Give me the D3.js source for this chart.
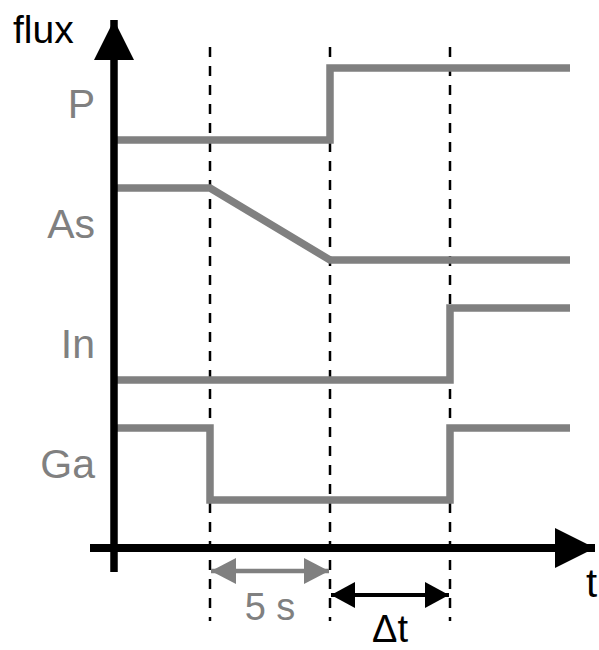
<!DOCTYPE html>
<html>
<head>
<meta charset="utf-8">
<script src="https://cdn.jsdelivr.net/npm/d3@7"></script>
<style>
  body { margin: 0; background: #fff; }
  text { font-family: "Liberation Sans", Arial, sans-serif; }
</style>
</head>
<body>
<svg width="599" height="650"></svg>
<script>
// time in seconds, flux in arbitrary units
var species = ["P", "As", "In", "Ga"];

var pFlux  = [[0, 17], [9, 17], [9, 20], [19, 20]];
var asFlux = [[0, 15], [4, 15], [9, 12], [19, 12]];
var inFlux = [[0, 7], [14, 7], [14, 10], [19, 10]];
var gaFlux = [[0, 5], [4, 5], [4, 2], [14, 2], [14, 5], [19, 5]];

var markerTimes = [4, 9, 14];
var spans = [
  {from: 4, to: 9, label: "5 s", color: "#808080"},
  {from: 9, to: 14, label: "\u0394t", color: "#000"}
];

var svg = d3.select("svg");
var grey = "#808080";

var x = d3.scaleLinear().domain([0, 19]).range([114, 570]),
    y = d3.scaleLinear().domain([0, 22]).range([548, 20]);

var series = [pFlux, asFlux, inFlux, gaFlux];

var defs = svg.append("defs");
function head(id, color, len, half) {
  defs.append("marker")
      .attr("id", id)
      .attr("viewBox", "0 " + (-half) + " " + len + " " + (2 * half))
      .attr("refX", len).attr("refY", 0)
      .attr("markerUnits", "userSpaceOnUse")
      .attr("markerWidth", len).attr("markerHeight", 2 * half)
      .attr("orient", "auto-start-reverse")
    .append("path")
      .attr("d", "M0," + (-half) + "L" + len + ",0L0," + half + "Z")
      .attr("fill", color);
}
head("axhead", "#000", 40, 20);
head("greyhead", grey, 25, 13);
head("blackhead", "#000", 24, 13);

// dashed time markers
svg.selectAll(".marker")
  .data(markerTimes)
  .enter().append("line")
    .attr("class", "marker")
    .attr("x1", function(d) { return x(d); })
    .attr("x2", function(d) { return x(d); })
    .attr("y1", 47)
    .attr("y2", 621)
    .attr("stroke", "#000")
    .attr("stroke-width", 2.5)
    .attr("stroke-dasharray", "10,9");

// flux traces
var line = d3.line()
    .x(function(d) { return x(d[0]); })
    .y(function(d) { return y(d[1]); });

svg.selectAll(".trace")
  .data(series)
  .enter().append("path")
    .attr("class", "trace")
    .attr("d", line)
    .attr("fill", "none")
    .attr("stroke", grey)
    .attr("stroke-width", 7.5)
    .attr("stroke-linejoin", "miter");

// axes
svg.append("line")
    .attr("x1", x(0)).attr("x2", x(0))
    .attr("y1", 572).attr("y2", y(22))
    .attr("stroke", "#000").attr("stroke-width", 7.5)
    .attr("marker-end", "url(#axhead)");

svg.append("line")
    .attr("x1", 90).attr("x2", 595)
    .attr("y1", y(0)).attr("y2", y(0))
    .attr("stroke", "#000").attr("stroke-width", 8)
    .attr("marker-end", "url(#axhead)");

// species labels, centred on each trace's two levels
svg.selectAll(".lab")
  .data(series)
  .enter().append("text")
    .attr("class", "lab")
    .attr("x", 95)
    .attr("y", function(d) {
      var e = d3.extent(d, function(p) { return p[1]; });
      return y((e[0] + e[1]) / 2) + 14;
    })
    .attr("text-anchor", "end")
    .attr("font-size", 41)
    .attr("fill", grey)
    .text(function(d, i) { return species[i]; });

svg.append("text")
    .attr("x", 13).attr("y", 43)
    .attr("font-size", 39)
    .text("flux");

svg.append("text")
    .attr("x", 586).attr("y", 597)
    .attr("font-size", 40)
    .text("t");

// interval arrows
spans.forEach(function(s, i) {
  var yy = i == 0 ? 571 : 595;
  svg.append("line")
      .attr("x1", x(s.from) + 1).attr("x2", x(s.to) - 1)
      .attr("y1", yy).attr("y2", yy)
      .attr("stroke", s.color)
      .attr("stroke-width", i == 0 ? 4.5 : 4)
      .attr("marker-start", "url(#" + (i == 0 ? "greyhead" : "blackhead") + ")")
      .attr("marker-end", "url(#" + (i == 0 ? "greyhead" : "blackhead") + ")");
  svg.append("text")
      .attr("x", (x(s.from) + x(s.to)) / 2)
      .attr("y", i == 0 ? 620 : 642)
      .attr("text-anchor", "middle")
      .attr("font-size", 38)
      .attr("fill", s.color)
      .text(s.label);
});
</script>
</body>
</html>
